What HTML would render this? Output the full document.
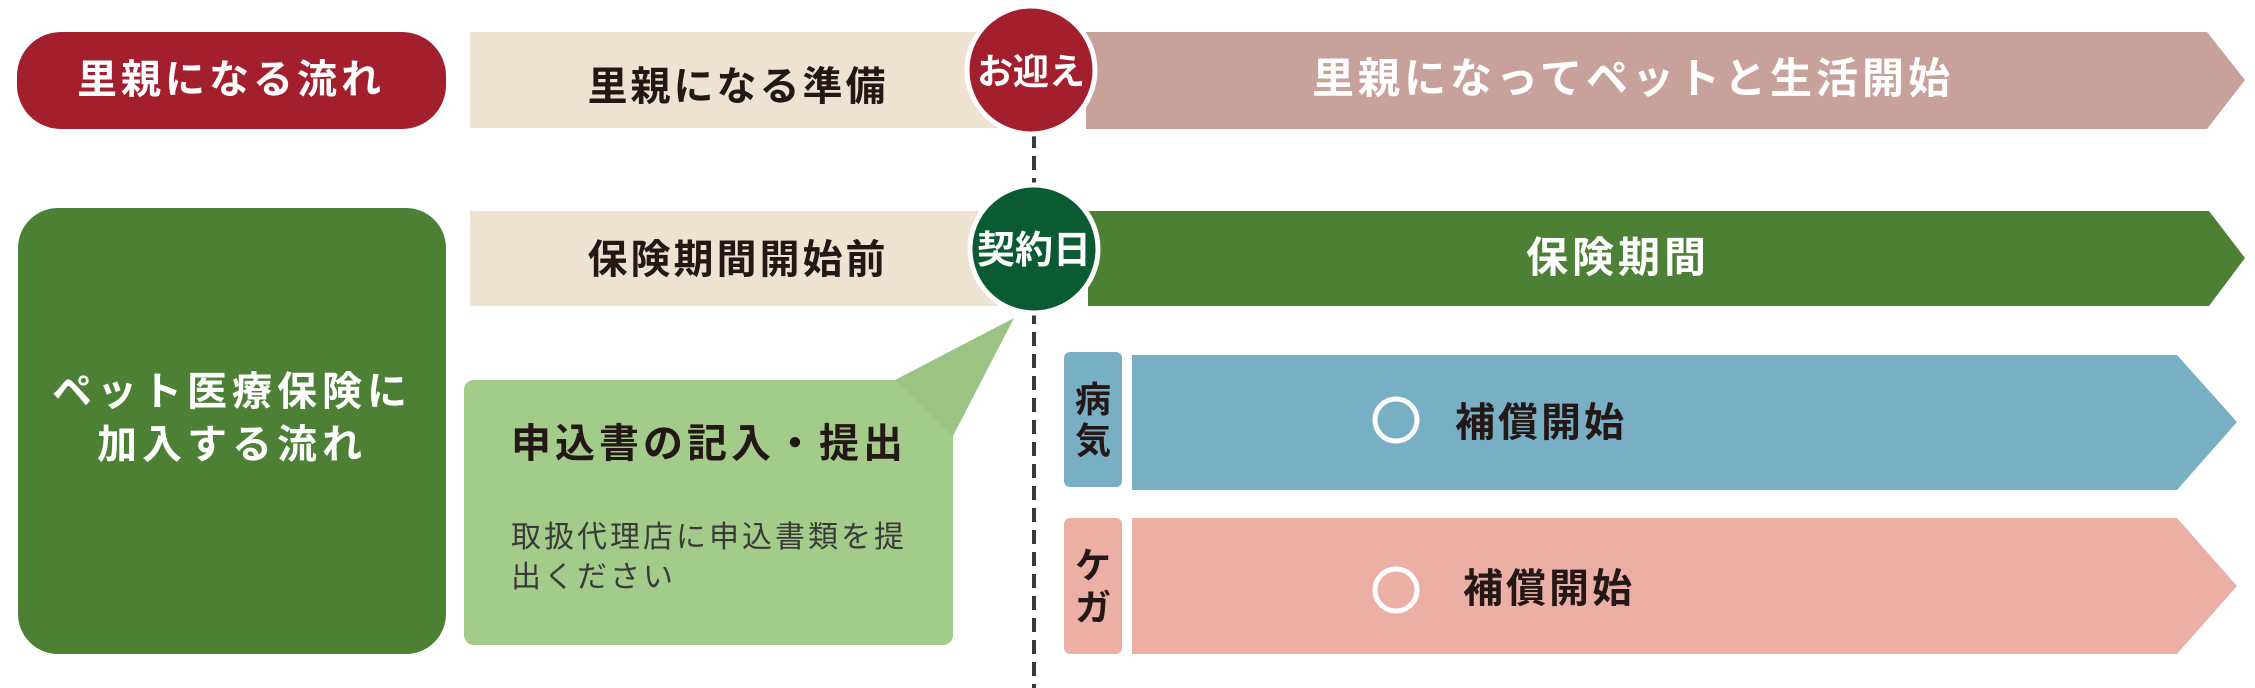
<!DOCTYPE html>
<html><head><meta charset="utf-8"><style>
html,body{margin:0;padding:0;background:#fff;}
svg{display:block;}
text{font-family:"Liberation Sans","Noto Sans CJK JP",sans-serif;}
</style></head><body>
<svg width="2255" height="688" viewBox="0 0 2255 688" xmlns="http://www.w3.org/2000/svg">
<rect x="17" y="32" width="429" height="97" rx="44" fill="#a31f2e"/>
<text x="231" y="93" font-size="40" font-weight="bold" fill="#fff" text-anchor="middle" letter-spacing="4">里親になる流れ</text>
<rect x="470" y="32" width="540" height="96" fill="#ede3d0"/>
<text x="738" y="100" font-size="40" font-weight="bold" fill="#231815" text-anchor="middle" letter-spacing="3">里親になる準備</text>
<polygon points="1086,32 2207,32 2245,80 2207,129 1086,129" fill="#c8a29a"/>
<text x="1633" y="93" font-size="42" font-weight="bold" fill="#fff" text-anchor="middle" letter-spacing="4">里親になってペットと生活開始</text>
<line x1="1034" y1="134" x2="1034" y2="688" stroke="#3a3a3a" stroke-width="4" stroke-dasharray="14,8"/>
<circle cx="1031" cy="70" r="64" fill="#a31f2e" stroke="#fff" stroke-width="5"/>
<text x="1031" y="84" font-size="36" font-weight="bold" fill="#fff" text-anchor="middle">お迎え</text>
<rect x="18" y="208" width="428" height="446" rx="40" fill="#4b8035"/>
<text x="232" y="405" font-size="40" font-weight="bold" fill="#fff" text-anchor="middle" letter-spacing="5">ペット医療保険に</text>
<text x="232" y="458" font-size="40" font-weight="bold" fill="#fff" text-anchor="middle" letter-spacing="5">加入する流れ</text>
<rect x="470" y="211" width="540" height="95" fill="#ede3d0"/>
<text x="738" y="273" font-size="40" font-weight="bold" fill="#231815" text-anchor="middle" letter-spacing="3">保険期間開始前</text>
<polygon points="1088,211 2209,211 2245,258 2209,306 1088,306" fill="#4b8035"/>
<text x="1618" y="272" font-size="42" font-weight="bold" fill="#fff" text-anchor="middle" letter-spacing="4">保険期間</text>
<rect x="464" y="380" width="489" height="265" rx="10" fill="#a3cb8a"/>
<polygon points="895,380 1014,318 953,436" fill="#9dc384"/>
<text x="511" y="457" font-size="40" font-weight="bold" fill="#231815" letter-spacing="4">申込書の記入・提出</text>
<text x="511" y="547" font-size="30" fill="#3a3a3a" letter-spacing="3">取扱代理店に申込書類を提</text>
<text x="511" y="587" font-size="30" fill="#3a3a3a" letter-spacing="3">出ください</text>
<circle cx="1034" cy="249" r="64" fill="#0a5a32" stroke="#fff" stroke-width="5"/>
<text x="1034" y="263" font-size="38" font-weight="bold" fill="#fff" text-anchor="middle">契約日</text>
<rect x="1064" y="352" width="58" height="135" rx="6" fill="#78afc5"/>
<text x="1093" y="412" font-size="36" font-weight="bold" fill="#231815" text-anchor="middle">病</text>
<text x="1093" y="453" font-size="36" font-weight="bold" fill="#231815" text-anchor="middle">気</text>
<polygon points="1132,355 2177,355 2237,422 2177,490 1132,490" fill="#78afc5"/>
<circle cx="1396" cy="420" r="21" fill="none" stroke="#fff" stroke-width="5"/>
<text x="1455" y="436" font-size="40" font-weight="bold" fill="#231815" letter-spacing="3">補償開始</text>
<rect x="1064" y="518" width="58" height="136" rx="6" fill="#ecafa6"/>
<text x="1093" y="578" font-size="36" font-weight="bold" fill="#231815" text-anchor="middle">ケ</text>
<text x="1093" y="620" font-size="36" font-weight="bold" fill="#231815" text-anchor="middle">ガ</text>
<polygon points="1132,518 2177,518 2237,586 2177,654 1132,654" fill="#ecafa6"/>
<circle cx="1396" cy="590" r="21" fill="none" stroke="#fff" stroke-width="5"/>
<text x="1463" y="602" font-size="40" font-weight="bold" fill="#231815" letter-spacing="3">補償開始</text>
</svg>
</body></html>
